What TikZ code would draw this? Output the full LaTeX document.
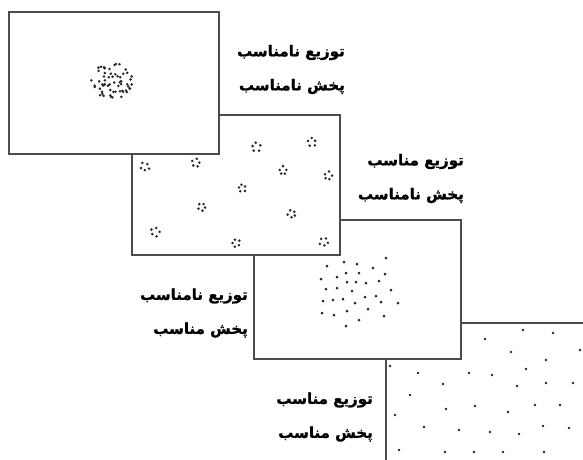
\documentclass[tikz,border=0pt]{standalone}
\usepackage{fontspec}
\newfontfamily\arabicfont[Script=Arabic, BoldFeatures={FakeBold=1.2}]{DejaVu Sans}
\TeXXeTstate=1
\usetikzlibrary{positioning}

\tikzset{
  panel/.style={draw=black!70, line width=1.2pt, fill=white},
  dotmark/.style={fill=black!85},
  caption/.style={font=\arabicfont\bfseries\fontsize{15}{34}\selectfont,
                  align=right, inner sep=0pt, anchor=east}
}

\begin{document}
\begin{tikzpicture}[x=1pt, y=-1pt]
  \clip (0,0) rectangle (583,459);
  \fill[white] (0,0) rectangle (583,459);

  % panel 4: even spread, even distribution
  \draw[panel] (386,323) rectangle (610,480);
  \foreach \px/\py in {523/330, 553/333, 485/339, 580/350, 511/352, 546/360,
                       390/366, 418/373, 469/373, 492/375, 526/369, 443/384,
                       517/386, 546/383, 573/383, 410/395, 446/409, 475/406,
                       508/412, 535/405, 560/405, 395/415, 424/427, 459/430,
                       490/432, 519/434, 543/426, 569/428, 399/450, 445/452,
                       474/452, 503/452, 544/452}
    \fill[dotmark] (\px,\py) circle[radius=1.3pt];

  % panel 3: even spread, uneven distribution
  \draw[panel] (254,220) rectangle (461,359);
  \foreach \px/\py in {327/266, 344/262, 357/264, 373/268, 386/258, 321/279,
                       337/277, 346/273, 359/273, 385/274, 347/282, 356/282,
                       366/283, 379/281, 326/289, 337/288, 352/291, 391/290,
                       323/301, 333/300, 343/299, 355/303, 365/297, 376/296,
                       381/302, 398/303, 322/313, 334/315, 347/311, 368/309,
                       384/316, 359/320, 346/326}
    \fill[dotmark] (\px,\py) circle[radius=1.5pt];

  % panel 2: uneven spread, even distribution
  \draw[panel] (132,115) rectangle (340,255);
  \pgfmathsetseed{11}
  \foreach \cx/\cy in {145/167, 196/163, 256/147, 312/142, 283/171, 328/176,
                       242/188, 202/207, 292/214, 155/232, 236/243, 324/242} {
    \pgfmathsetmacro\rot{360*rnd}
    \foreach \k in {0,...,4} {
      \pgfmathsetmacro\rr{3+2*rnd}
      \fill[dotmark] ({\cx+\rr*cos(\rot+72*\k)},{\cy+\rr*sin(\rot+72*\k)}) circle[radius=1.4pt];
    }
  }

  % panel 1: uneven spread, uneven distribution
  \draw[panel] (9,12) rectangle (219,154);
  \pgfmathsetseed{7}
  \foreach \k in {1,...,60} {
    \pgfmathsetmacro\ang{360*rnd}
    \pgfmathsetmacro\rad{sqrt(rnd)}
    \fill[dotmark] ({112+21*\rad*cos(\ang)},{81+18*\rad*sin(\ang)}) circle[radius=1.4pt];
  }

  % captions
  \node[caption] (capA) at (345,69.5) {\beginR توزیع نامناسب\endR\\\beginR پخش نامناسب\endR};
  \node[caption] (capB) at (464,178.5) {\beginR توزیع مناسب\endR\\\beginR پخش نامناسب\endR};
  \node[caption] (capC) at (248,313) {\beginR توزیع نامناسب\endR\\\beginR پخش مناسب\endR};
  \node[caption] (capD) at (373,417) {\beginR توزیع مناسب\endR\\\beginR پخش مناسب\endR};
\end{tikzpicture}
\end{document}
